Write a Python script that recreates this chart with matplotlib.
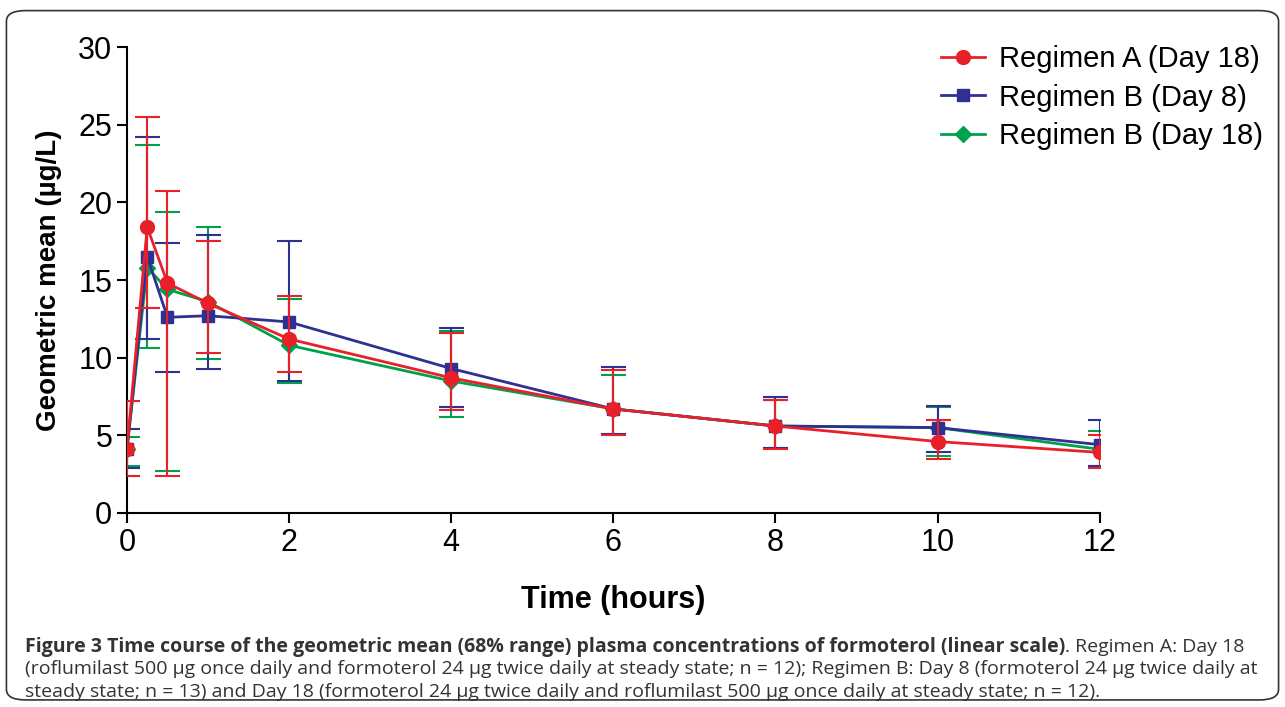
import matplotlib
matplotlib.use("Agg")
import matplotlib.pyplot as plt
from matplotlib.patches import FancyBboxPatch
from matplotlib.lines import Line2D
import numpy as np

plt.rcParams["font.family"] = ["Liberation Sans", "DejaVu Sans"]

t = [0, 0.25, 0.5, 1, 2, 4, 6, 8, 10, 12]
a_mean = [4.1, 18.4, 14.8, 13.5, 11.2, 8.7, 6.7, 5.6, 4.6, 3.9]
a_up   = [7.2, 25.5, 20.7, 17.5, 14.0, 11.6, 9.2, 7.3, 6.0, 5.0]
a_lo   = [2.4, 13.2, 2.35, 10.3, 9.1, 6.6, 5.0, 4.1, 3.5, 2.9]
b8_mean = [4.1, 16.5, 12.6, 12.7, 12.3, 9.3, 6.7, 5.6, 5.5, 4.4]
b8_up   = [5.4, 24.2, 17.4, 17.9, 17.5, 11.9, 9.4, 7.5, 6.9, 6.0]
b8_lo   = [2.9, 11.2, 9.1, 9.3, 8.5, 6.8, 5.1, 4.2, 3.9, 3.0]
b18_mean = [4.1, 15.8, 14.4, 13.6, 10.8, 8.5, 6.7, 5.6, 5.5, 4.1]
b18_up   = [4.9, 23.7, 19.4, 18.4, 13.8, 11.7, 8.9, 7.3, 6.8, 5.3]
b18_lo   = [3.0, 10.6, 2.7, 9.9, 8.4, 6.2, 5.0, 4.2, 3.7, 3.0]

fig = plt.figure(figsize=(12.85, 7.07), dpi=100)
ax = fig.add_axes([0.0988, 0.2744, 0.757, 0.6591])

series = [
    ("Regimen A (Day 18)", a_mean, a_up, a_lo, "#e8202a", "o", 10, 3),
    ("Regimen B (Day 8)", b8_mean, b8_up, b8_lo, "#2e3192", "s", 9, 2),
    ("Regimen B (Day 18)", b18_mean, b18_up, b18_lo, "#00a14b", "D", 8, 1),
]
handles = []
for lab, m, up, lo, c, mk, ms, z in series:
    m = np.array(m)
    err = [m - np.array(lo), np.array(up) - m]
    ax.errorbar(t, m, yerr=err, color=c, marker=mk, markersize=ms, lw=2,
                elinewidth=1.5, capsize=9, capthick=1.5, zorder=z)
    handles.append(Line2D([], [], color=c, marker=mk, markersize=ms, lw=2, label=lab))

ax.legend(handles=handles, loc="upper left", bbox_to_anchor=(0.81, 1.06), frameon=False,
          fontsize=21, handlelength=1.5, handletextpad=0.5, labelspacing=0.35)

ax.set_xlim(0, 12)
ax.set_ylim(0, 30)
ax.set_xticks([0, 2, 4, 6, 8, 10, 12])
ax.set_yticks([0, 5, 10, 15, 20, 25, 30])
ax.tick_params(labelsize=22, width=1.5, length=7)
ax.spines["top"].set_visible(False)
ax.spines["right"].set_visible(False)
ax.spines["left"].set_linewidth(1.5)
ax.spines["bottom"].set_linewidth(1.5)
ax.set_xlabel("Time (hours)", fontsize=22, fontweight="bold", labelpad=20)
ax.set_ylabel("Geometric mean (\u00b5g/L)", fontsize=20, fontweight="bold", labelpad=12)

fig.patches.append(FancyBboxPatch((0.005, 0.01), 0.99, 0.975, boxstyle="round,pad=0,rounding_size=0.015",
                                  transform=fig.transFigure, fill=False, lw=1.2, ec="#333333"))

cap_font = "Open Sans"
cap_size = 14
bold = fig.text(0.0195, 0.078, "Figure 3 Time course of the geometric mean (68% range) plasma concentrations of formoterol (linear scale)",
                fontsize=cap_size, fontweight="bold", family=cap_font, color="#333333")
fig.canvas.draw()
bb = bold.get_window_extent()
fig.text(bb.x1 / fig.bbox.width, 0.078, ". Regimen A: Day 18",
         fontsize=cap_size, family=cap_font, color="#333333")
fig.text(0.0195, 0.046, "(roflumilast 500 \u00b5g once daily and formoterol 24 \u00b5g twice daily at steady state; n = 12); Regimen B: Day 8 (formoterol 24 \u00b5g twice daily at",
         fontsize=cap_size, family=cap_font, color="#333333")
fig.text(0.0195, 0.014, "steady state; n = 13) and Day 18 (formoterol 24 \u00b5g twice daily and roflumilast 500 \u00b5g once daily at steady state; n = 12).",
         fontsize=cap_size, family=cap_font, color="#333333")

fig.savefig("out.png", dpi=100)
